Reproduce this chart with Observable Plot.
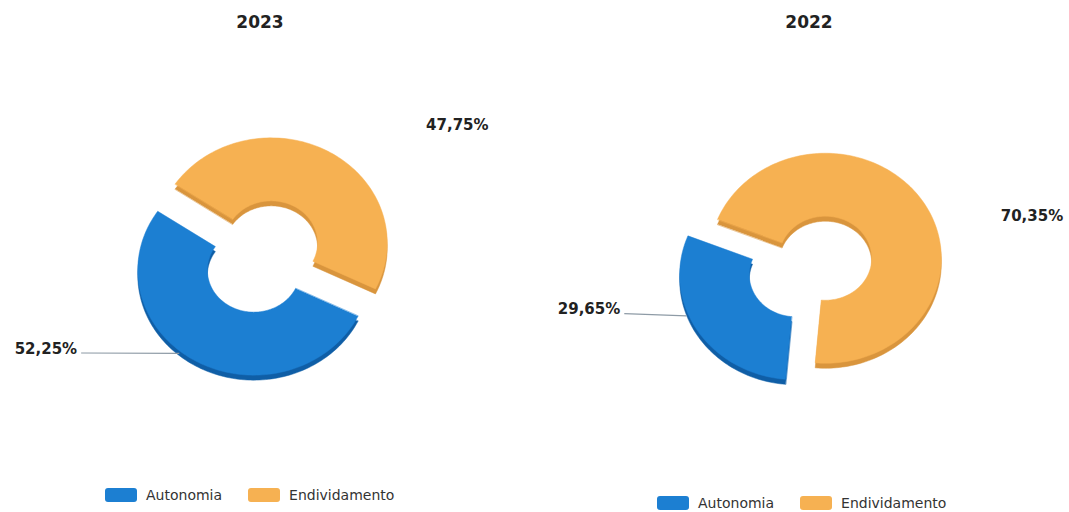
<!DOCTYPE html>
<html>
<head>
<meta charset="utf-8">
<script src="https://cdn.jsdelivr.net/npm/d3@7"></script>
<script src="https://cdn.jsdelivr.net/npm/@observablehq/plot@0.6"></script>
<style>
  html, body { margin: 0; padding: 0; background: #fff; }
  #root { position: relative; width: 1069px; height: 512px; overflow: hidden; font-family: "DejaVu Sans", sans-serif; }
  .chart { position: absolute; top: 0; width: 520px; height: 512px; }
  .title { position: absolute; top: 0; left: 0; width: 100%; text-align: center; font-weight: bold; font-size: 17px; line-height: 44px; color: #222; }
  .plot { position: absolute; top: 44px; left: 0; }
  .legend { position: absolute; display: flex; align-items: center; font-size: 14px; line-height: 16px; color: #333; white-space: nowrap; }
  .legend .item { display: flex; align-items: center; margin-right: 26px; }
  .legend .sw { width: 32px; height: 14px; border-radius: 3px; margin-right: 9px; }
</style>
</head>
<body>
<div id="root"></div>
<script>
// ---------- data ----------
const years = ["2023", "2022"];
const categories = ["Autonomia", "Endividamento"];
const autonomia = [52.25, 29.65];
const endividamento = [47.75, 70.35];

// ---------- styles ----------
const topColors = ["#1c7fd2", "#f6b152"];
const sideColors = ["#0f5ea6", "#d9953d"];

// ---------- layout (pixels / chart units) ----------
const PX_X = 116, PX_Y = 105;          // outer radius in px (x, y)
const INNER = 0.4, EXPLODE = 0.15, SIDE = 5 / PX_Y;
const SVG_W = 520, SVG_H = 430, SVG_TOP = 44;
const charts = [
  { left: 0,   cx: 262, cy: 256, startAngle: 116, legendLeft: 105, legendTop: 487,
    labels: [ { x: -1.598, y: -0.881, anchor: "end", leader: true },
              { x: 1.41,  y: 1.248,  anchor: "start", leader: false } ] },
  { left: 549, cx: 810, cy: 266, startAngle: 185, legendLeft: 108, legendTop: 495,
    labels: [ { x: -1.64, y: -0.41, anchor: "end", leader: true },
              { x: 1.64, y: 0.481, anchor: "start", leader: false } ] }
];

const fmt = v => v.toFixed(2).replace(".", ",") + "%";
const rad = Math.PI / 180;

function ringPoints(id, a0, a1, r0, r1, ox, oy, color) {
  const pts = [];
  const n = Math.max(12, Math.ceil((a1 - a0) / (1.5 * rad)));
  for (let i = 0; i <= n; i++) {
    const a = a0 + (a1 - a0) * i / n;
    pts.push({ id, x: ox + r1 * Math.sin(a), y: oy + r1 * Math.cos(a), color });
  }
  for (let i = n; i >= 0; i--) {
    const a = a0 + (a1 - a0) * i / n;
    pts.push({ id, x: ox + r0 * Math.sin(a), y: oy + r0 * Math.cos(a), color });
  }
  return pts;
}

const root = document.getElementById("root");

years.forEach((year, ci) => {
  const cfg = charts[ci];
  const values = [autonomia[ci], endividamento[ci]];
  const a0 = cfg.startAngle * rad;
  const arcs = d3.pie().sort(null).value(d => d).startAngle(a0).endAngle(a0 + 2 * Math.PI)(values);

  const tops = [], sides = [], texts = [], leaders = [];
  arcs.forEach((arc, k) => {
    const mid = (arc.startAngle + arc.endAngle) / 2;
    const ox = EXPLODE * Math.sin(mid), oy = EXPLODE * Math.cos(mid);
    sides.push(...ringPoints(`s${k}`, arc.startAngle, arc.endAngle, INNER, 1, ox, oy - SIDE, sideColors[k]));
    tops.push(...ringPoints(`t${k}`, arc.startAngle, arc.endAngle, INNER, 1, ox, oy, topColors[k]));
    const lab = cfg.labels[k];
    texts.push({ x: lab.x, y: lab.y, text: fmt(values[k]), anchor: lab.anchor });
    if (lab.leader) {
      const ae = mid + 9 * rad;
      leaders.push({
        x1: lab.x + (lab.anchor === "end" ? 4 : -4) / PX_X,
        y1: lab.y - 4 / PX_Y,
        x2: ox + 1.02 * Math.sin(ae),
        y2: oy + 1.02 * Math.cos(ae)
      });
    }
  });

  const cxp = cfg.cx - cfg.left, cyp = cfg.cy - SVG_TOP;

  const plot = Plot.plot({
    width: SVG_W, height: SVG_H,
    margin: 0,
    x: { domain: [-cxp / PX_X, (SVG_W - cxp) / PX_X], axis: null },
    y: { domain: [-(SVG_H - cyp) / PX_Y, cyp / PX_Y], axis: null },
    color: { type: "identity" },
    style: { fontFamily: "DejaVu Sans, sans-serif", background: "transparent", overflow: "visible" },
    marks: [
      Plot.line(sides, { x: "x", y: "y", z: "id", fill: "color", stroke: "color", strokeWidth: 0.5, curve: "linear-closed" }),
      Plot.line(tops, { x: "x", y: "y", z: "id", fill: "color", stroke: "color", strokeWidth: 0.5, curve: "linear-closed" }),
      Plot.link(leaders, { x1: "x1", y1: "y1", x2: "x2", y2: "y2", stroke: "#8e9ba6", strokeWidth: 1.2 }),
      Plot.text(texts.filter(t => t.anchor === "end"), { x: "x", y: "y", text: "text", textAnchor: "end", fontWeight: "bold", fontSize: 15, fill: "#222" }),
      Plot.text(texts.filter(t => t.anchor === "start"), { x: "x", y: "y", text: "text", textAnchor: "start", fontWeight: "bold", fontSize: 15, fill: "#222" })
    ]
  });

  const box = document.createElement("div");
  box.className = "chart";
  box.style.left = cfg.left + "px";

  const title = document.createElement("div");
  title.className = "title";
  title.textContent = year;
  box.appendChild(title);

  const holder = document.createElement("div");
  holder.className = "plot";
  holder.appendChild(plot);
  box.appendChild(holder);

  const legend = document.createElement("div");
  legend.className = "legend";
  legend.style.left = cfg.legendLeft + "px";
  legend.style.top = cfg.legendTop + "px";
  categories.forEach((c, k) => {
    const item = document.createElement("div");
    item.className = "item";
    const sw = document.createElement("span");
    sw.className = "sw";
    sw.style.background = topColors[k];
    const tx = document.createElement("span");
    tx.textContent = c;
    item.appendChild(sw);
    item.appendChild(tx);
    legend.appendChild(item);
  });
  box.appendChild(legend);

  root.appendChild(box);
});
</script>
</body>
</html>
